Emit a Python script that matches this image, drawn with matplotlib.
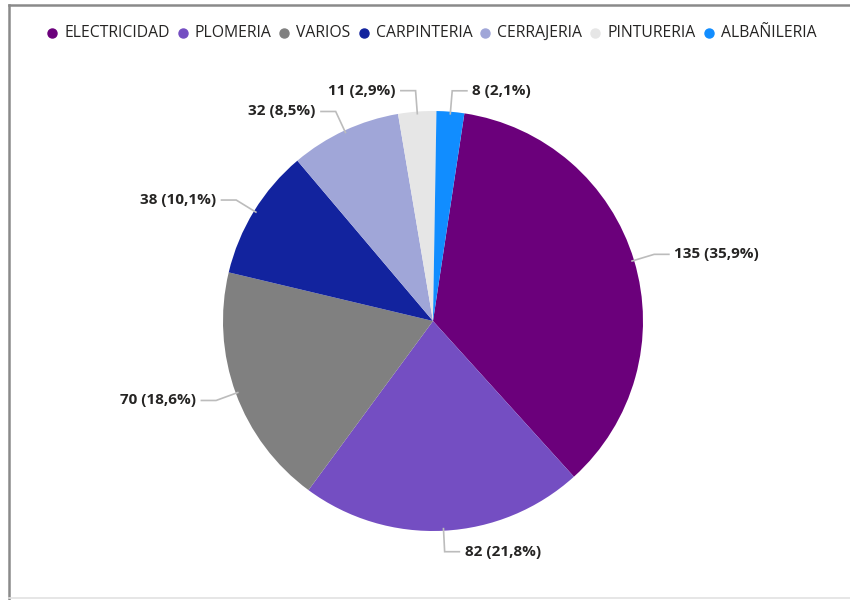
import numpy as np
import matplotlib.pyplot as plt
from matplotlib.lines import Line2D

plt.rcParams['font.family'] = ['Open Sans', 'DejaVu Sans']

categorias = ['ELECTRICIDAD', 'PLOMERIA', 'VARIOS', 'CARPINTERIA',
              'CERRAJERIA', 'PINTURERIA', 'ALBAÑILERIA']
valores = [135, 82, 70, 38, 32, 11, 8]
colores = ['#6B007B', '#744EC2', '#808080', '#12239E',
           '#A0A6D8', '#E6E6E6', '#118DFF']

W, H = 850, 600
fig = plt.figure(figsize=(8.5, 6), dpi=100)
fig.patch.set_facecolor('white')

# marco del visual
fig.add_artist(Line2D([9 / W, 9 / W], [0, 1 - 5 / H], color='#8a8a8a', lw=1.8))
fig.add_artist(Line2D([9 / W, 1], [1 - 5 / H, 1 - 5 / H], color='#8a8a8a', lw=1.8))
fig.add_artist(Line2D([9 / W, 1], [2 / H, 2 / H], color='#e2e2e2', lw=1.2))

# torta
cx, cy, r = 433, 321, 210
ax = fig.add_axes([(cx - r) / W, (H - cy - r) / H, 2 * r / W, 2 * r / H])
start = 90 - 8.6
wedges, _ = ax.pie(valores, colors=colores, startangle=start, counterclock=False,
                   radius=1, wedgeprops=dict(linewidth=0))
ax.set_xlim(-1, 1)
ax.set_ylim(-1, 1)
ax.set_aspect('equal')
ax.axis('off')

total = sum(valores)
for w, v in zip(wedges, valores):
    ang = np.deg2rad((w.theta1 + w.theta2) / 2)
    dx, dy = np.cos(ang), np.sin(ang)
    p0 = (0.99 * dx, 0.99 * dy)
    p1 = (1.1 * dx, 1.1 * dy)
    side = 1 if dx >= 0 else -1
    p2 = (p1[0] + side * 0.07, p1[1])
    ax.plot([p0[0], p1[0], p2[0]], [p0[1], p1[1], p2[1]], color='#bcbcbc',
            lw=1.2, clip_on=False, solid_joinstyle='miter')
    pct = f'{v / total * 100:.1f}'.replace('.', ',')
    ax.text(p2[0] + side * 0.025, p2[1], f'{v} ({pct}%)', ha='left' if side > 0 else 'right',
            va='center', fontsize=11, fontweight='bold', color='#252423', clip_on=False)

# leyenda
fig.canvas.draw()
rend = fig.canvas.get_renderer()
x = 52
ly = 1 - 33 / H
for c, lab in zip(colores, categorias):
    fig.add_artist(Line2D([x / W], [ly], marker='o', markersize=6.5, color=c, lw=0))
    t = fig.text((x + 12) / W, ly, lab, ha='left', va='center', fontsize=11.3, color='#252423')
    bb = t.get_window_extent(renderer=rend)
    x = x + 12 + bb.width + 13

fig.savefig('out.png', dpi=100)
